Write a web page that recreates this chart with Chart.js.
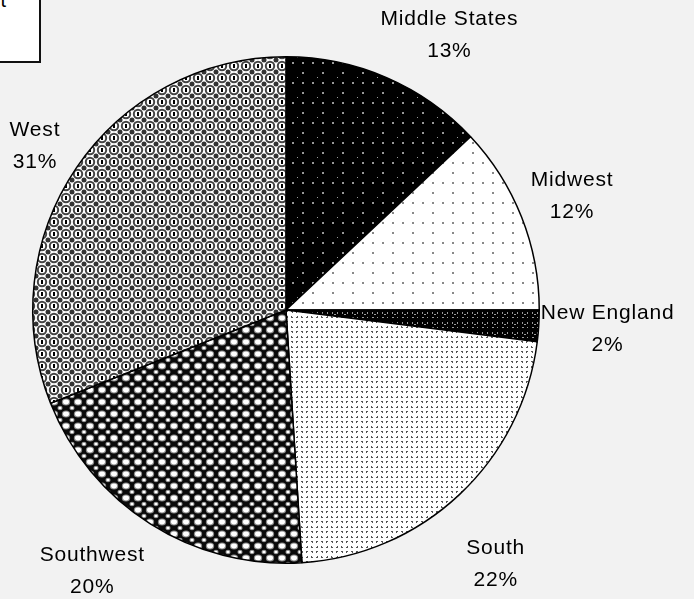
<!DOCTYPE html>
<html lang="en">
<head>
    <meta charset="UTF-8">
    <title>Regional Shares</title>
    <style>
        html, body {
            margin: 0;
            padding: 0;
            background: #f2f2f2;
            overflow: hidden;
        }
        .wrap {
            position: relative;
            width: 694px;
            height: 599px;
        }
        .title-box {
            position: absolute;
            left: -200px;
            top: -20px;
            width: 241px;
            height: 83px;
            background: #fff;
            border: 2px solid #111;
            font-family: "Liberation Sans", Arial, sans-serif;
            font-size: 20px;
            line-height: 28px;
            box-sizing: border-box;
        }
        .title-box span {
            position: absolute;
            right: 33px;
            top: 4px;
        }
        canvas {
            position: absolute;
            left: 0;
            top: 0;
        }
    </style>
</head>
<body>
<div class="wrap">
    <canvas id="pie" width="694" height="599"></canvas>
    <div class="title-box"><span>t</span></div>
</div>

<script src="https://cdn.jsdelivr.net/npm/chart.js"></script>
<script>
    // data
    const regions = ['Middle States', 'Midwest', 'New England', 'South', 'Southwest', 'West'];
    const shares = [13, 12, 2, 22, 20, 31];

    // little fill patterns, drawn pixel by pixel
    function makePattern(size, draw) {
        const c = document.createElement('canvas');
        c.width = size;
        c.height = size;
        const g = c.getContext('2d');
        draw(g, size);
        return g.createPattern(c, 'repeat');
    }

    function ellipse(g, x, y, rx, ry) {
        g.beginPath();
        g.ellipse(x, y, rx, ry, 0, 0, Math.PI * 2);
        g.fill();
    }

    const patMiddle = makePattern(20, (g) => {
        g.fillStyle = '#000';
        g.fillRect(0, 0, 20, 20);
        g.fillStyle = '#999';
        g.fillRect(2, 2, 2, 2);
        g.fillRect(12, 2, 2, 2);
        g.fillRect(2, 12, 2, 2);
        g.fillRect(17, 17, 1, 1);
    });

    const patMidwest = makePattern(20, (g) => {
        g.fillStyle = '#fff';
        g.fillRect(0, 0, 20, 20);
        g.fillStyle = '#888';
        g.fillRect(2, 2, 2, 2);
        g.fillRect(12, 2, 2, 2);
        g.fillRect(12, 12, 2, 2);
    });

    const patNewEngland = makePattern(10, (g) => {
        g.fillStyle = '#000';
        g.fillRect(0, 0, 10, 10);
        g.fillStyle = '#999';
        g.fillRect(2, 2, 1, 2);
        g.fillRect(4, 4, 2, 1);
        g.fillRect(7, 2, 1, 2);
        g.fillRect(2, 7, 2, 1);
        g.fillRect(7, 7, 1, 1);
    });

    const patSouth = makePattern(10, (g) => {
        g.fillStyle = '#fff';
        g.fillRect(0, 0, 10, 10);
        g.fillStyle = '#555';
        g.fillRect(1, 1, 2, 1);
        g.fillRect(2, 2, 1, 1);
        g.fillRect(6, 1, 2, 1);
        g.fillRect(6, 2, 1, 1);
        g.fillRect(1, 6, 1, 1);
        g.fillRect(1, 7, 2, 1);
        g.fillRect(7, 6, 1, 1);
        g.fillRect(6, 7, 2, 1);
    });

    const patSouthwest = makePattern(12, (g) => {
        g.fillStyle = '#0a0a0a';
        g.fillRect(0, 0, 12, 12);
        g.fillStyle = '#8a8a8a';
        ellipse(g, 6, 6, 4.2, 3.6);
        g.fillStyle = '#fff';
        ellipse(g, 6, 6, 3, 2.4);
        g.fillStyle = '#8a8a8a';
        ellipse(g, 0, 0, 2.6, 2.2);
        ellipse(g, 12, 0, 2.6, 2.2);
        ellipse(g, 0, 12, 2.6, 2.2);
        ellipse(g, 12, 12, 2.6, 2.2);
        g.fillStyle = '#fff';
        ellipse(g, 0, 0, 1.6, 1.3);
        ellipse(g, 12, 0, 1.6, 1.3);
        ellipse(g, 0, 12, 1.6, 1.3);
        ellipse(g, 12, 12, 1.6, 1.3);
    });

    const patWest = makePattern(12, (g) => {
        g.fillStyle = '#fff';
        g.fillRect(0, 0, 12, 12);
        g.fillStyle = '#333';
        ellipse(g, 0, 0, 2.5, 2.5);
        ellipse(g, 12, 0, 2.5, 2.5);
        ellipse(g, 0, 12, 2.5, 2.5);
        ellipse(g, 12, 12, 2.5, 2.5);
        g.strokeStyle = '#444';
        g.lineWidth = 2;
        g.beginPath();
        g.arc(6, 6, 4.2, 0, Math.PI * 2);
        g.stroke();
        g.fillStyle = '#000';
        g.fillRect(5, 4, 2, 4);
    });

    const fills = [patMiddle, patMidwest, patNewEngland, patSouth, patSouthwest, patWest];

    // hand nudges so the labels sit where the original put them
    const labelNudge = [[-10, 4], [0, -2], [-8, 0], [0, 32], [0, 4], [-8, 7]];

    // outside labels: name on top, percent underneath
    const outsideLabels = {
        id: 'outsideLabels',
        afterDatasetsDraw(chart) {
            const ctx = chart.ctx;
            const meta = chart.getDatasetMeta(0);
            const lineH = 32;
            ctx.save();
            ctx.font = '21px "Liberation Sans", Arial, sans-serif';
            ctx.letterSpacing = '0.8px';
            ctx.fillStyle = '#000';
            ctx.textAlign = 'center';
            ctx.textBaseline = 'middle';
            meta.data.forEach((arc, i) => {
                const p = arc.getProps(['x', 'y', 'startAngle', 'endAngle', 'outerRadius'], true);
                const mid = (p.startAngle + p.endAngle) / 2;
                const dx = Math.cos(mid);
                const dy = Math.sin(mid);
                const lines = [regions[i], shares[i] + '%'];
                const w = Math.max(...lines.map(t => ctx.measureText(t).width));
                const h = 82;
                const r = p.outerRadius + 10;
                const cx = p.x + r * dx + (w / 2) * Math.sign(dx) + labelNudge[i][0];
                const cy = p.y + r * dy + (h / 2) * dy + labelNudge[i][1];
                ctx.fillText(lines[0], cx, cy - lineH / 2);
                ctx.fillText(lines[1], cx, cy + lineH / 2);
            });
            ctx.restore();
        }
    };

    new Chart(document.getElementById('pie').getContext('2d'), {
        type: 'pie',
        data: {
            labels: regions,
            datasets: [{
                data: shares,
                backgroundColor: fills,
                borderColor: '#000',
                borderWidth: 1.5
            }]
        },
        options: {
            responsive: false,
            animation: false,
            layout: {
                padding: { top: 56, bottom: 35, left: 32, right: 154 }
            },
            plugins: {
                legend: { display: false },
                tooltip: { enabled: false }
            }
        },
        plugins: [outsideLabels]
    });
</script>
</body>
</html>
